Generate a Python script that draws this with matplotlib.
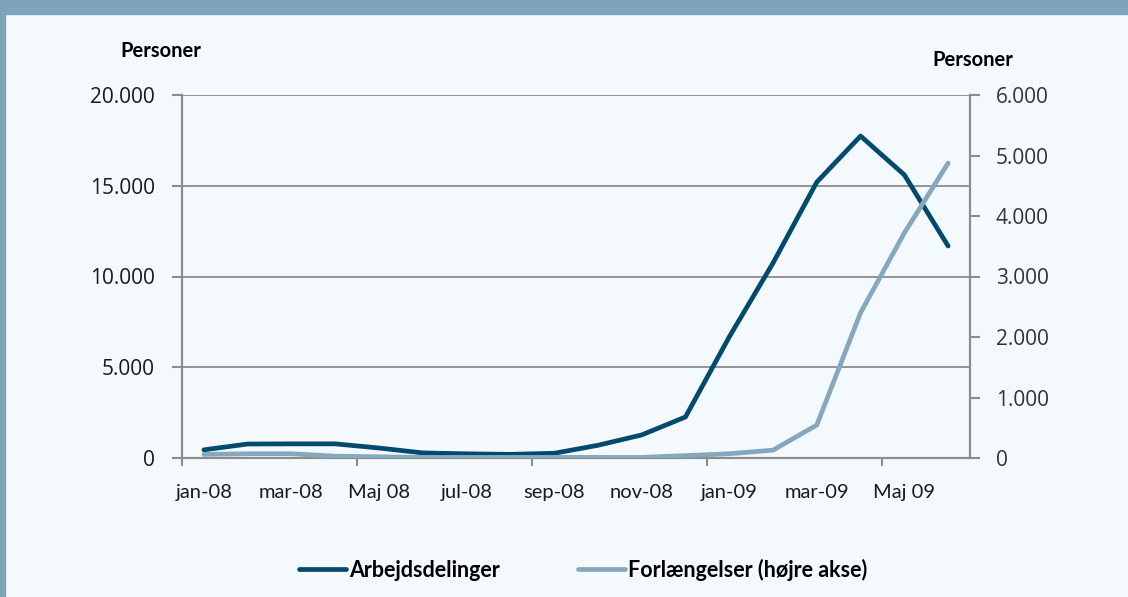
import matplotlib.pyplot as plt
from matplotlib.ticker import FuncFormatter
import matplotlib.patches as patches

# Data
months = ["jan-08", "feb-08", "mar-08", "apr-08", "Maj 08", "jun-08", "jul-08", "aug-08", "sep-08",
          "okt-08", "nov-08", "dec-08", "jan-09", "feb-09", "mar-09", "apr-09", "Maj 09", "jun-09"]
arbejdsdelinger = [450, 770, 780, 780, 550, 280, 230, 200, 260, 700, 1270, 2260, 6670, 10740,
                   15200, 17740, 15600, 11680]
forlaengelser = [60, 70, 70, 30, 20, 10, 10, 10, 10, 10, 10, 40, 70, 130, 545, 2400, 3720, 4875]

dark = "#004a70"
light = "#86a8bc"
grid_c = "#8c8c8c"
bg = "#f4f9fe"

def dk(x, pos):
    return f"{int(x):,}".replace(",", ".")

fig = plt.figure(figsize=(11.28, 5.97), dpi=100)
fig.patch.set_facecolor(bg)

# header band and left border
fig.patches.append(patches.Rectangle((0, 1 - 14 / 597), 1, 14 / 597, transform=fig.transFigure,
                                     color="#7fa3ba", zorder=0))
fig.patches.append(patches.Rectangle((0, 0), 5 / 1128, 1, transform=fig.transFigure,
                                     color="#7fa3ba", zorder=0))

ax = fig.add_axes([182 / 1128, 1 - 458 / 597, (970 - 182) / 1128, (458 - 95) / 597])
ax.set_facecolor(bg)
ax2 = ax.twinx()

x = range(len(months))
ax.plot(x, arbejdsdelinger, color=dark, lw=3.4, solid_capstyle="round", solid_joinstyle="round",
        zorder=3, label="Arbejdsdelinger")
ax2.plot(x, forlaengelser, color=light, lw=3.4, solid_capstyle="round", solid_joinstyle="round",
         zorder=3, label="Forlængelser (højre akse)")

ax.set_xlim(-0.5, len(months) - 0.5)
ax.set_ylim(0, 20000)
ax2.set_ylim(0, 6000)
ax.set_yticks(range(0, 20001, 5000))
ax2.set_yticks(range(0, 6001, 1000))
ax.yaxis.set_major_formatter(FuncFormatter(dk))
ax2.yaxis.set_major_formatter(FuncFormatter(dk))

# x ticks every 4 months at category boundaries, labels every 2 months
ax.set_xticks([i - 0.5 for i in range(0, len(months), 4)])
ax.set_xticks(range(0, len(months), 2), minor=True)
ax.set_xticklabels([])
ax.set_xticklabels([months[i] for i in range(0, len(months), 2)], minor=True,
                   fontsize=14.5, family="Lato", color="#1a1a1a")
ax.tick_params(axis="x", which="major", length=6, width=1.5, color=grid_c, direction="out")
ax.tick_params(axis="x", which="minor", length=0, pad=19)

ax.grid(axis="y", color=grid_c, lw=1.3)
ax.set_axisbelow(True)
for a in (ax, ax2):
    a.spines["top"].set_visible(False)
    for s in ("left", "right", "bottom"):
        a.spines[s].set_color(grid_c)
        a.spines[s].set_linewidth(1.5)

ax.tick_params(axis="y", length=7, width=1.5, color=grid_c, labelsize=15, pad=12.5,
               labelcolor="#1a1a1a")
ax2.tick_params(axis="y", length=7, width=1.5, color=grid_c, labelsize=15, pad=11.5,
                labelcolor="#333333")
for lbl in ax.get_yticklabels() + ax2.get_yticklabels():
    lbl.set_family("Open Sans")

fig.text(161 / 1128, 1 - 51 / 597, "Personer", ha="center", va="center", fontsize=14.5,
         fontweight="bold", family="Lato")
fig.text(973 / 1128, 1 - 60 / 597, "Personer", ha="center", va="center", fontsize=14.5,
         fontweight="bold", family="Lato")

h1, l1 = ax.get_legend_handles_labels()
h2, l2 = ax2.get_legend_handles_labels()
leg = fig.legend(h1 + h2, l1 + l2, loc="center", bbox_to_anchor=(583 / 1128, 1 - 570 / 597),
                 ncol=2, frameon=False, handlelength=2.2, handletextpad=0.15, columnspacing=3.6,
                 prop={"family": "Lato", "weight": "bold", "size": 15.5})

fig.savefig("out.png", dpi=100, facecolor=bg)
